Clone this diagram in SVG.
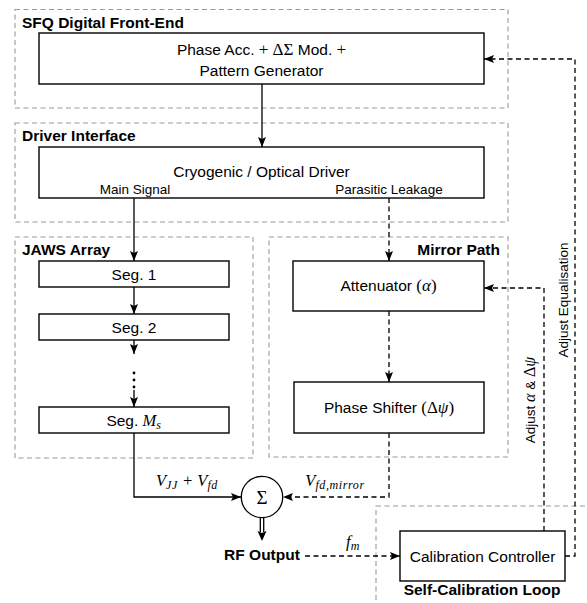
<svg xmlns="http://www.w3.org/2000/svg" width="587" height="603" viewBox="0 0 587 603">
<style>
text{font-family:"Liberation Sans",Arial,sans-serif;fill:#000}
.t{font-size:15.5px;text-anchor:middle}
.s{font-size:13.5px;text-anchor:middle}
.b{font-size:15.5px;font-weight:bold}
.m{font-family:"Liberation Serif","Times New Roman",serif;font-style:italic}
.mu{font-family:"Liberation Serif","Times New Roman",serif}
.sub{font-size:12px;letter-spacing:0.6px}
.grp{fill:none;stroke:#999;stroke-width:1.1;stroke-dasharray:5 3.5}
.box{fill:#fff;stroke:#000;stroke-width:1.4}
.c{fill:none;stroke:#000;stroke-width:1.3}
.d{fill:none;stroke:#000;stroke-width:1.3;stroke-dasharray:5 3.5}
</style>
<defs>
<marker id="ah" viewBox="0 0 10 8" refX="10" refY="4" markerWidth="10" markerHeight="8" orient="auto" markerUnits="userSpaceOnUse">
<path d="M0,0 L10,4 L0,8 L2,4 z" fill="#000"/>
</marker>
</defs>
<rect width="587" height="603" fill="#fff"/>

<g id="groups">
<g id="grp-sfq"><rect class="grp" x="15" y="9.5" width="493" height="98.5"/><text class="b" x="22" y="28">SFQ Digital Front-End</text></g>
<g id="grp-driver"><rect class="grp" x="15" y="123" width="493" height="99"/><text class="b" x="22" y="141">Driver Interface</text></g>
<g id="grp-jaws"><rect class="grp" x="15" y="237" width="238" height="221"/><text class="b" x="22" y="255">JAWS Array</text></g>
<g id="grp-mirror"><rect class="grp" x="269" y="237" width="239" height="220"/><text class="b" x="500" y="255" text-anchor="end">Mirror Path</text></g>
<g id="grp-selfcal"><rect class="grp" x="376" y="506" width="240" height="130"/><text class="b" x="482" y="595" text-anchor="middle">Self-Calibration Loop</text></g>
</g>

<g id="connectors">
<path class="c" d="M262,84 V147" marker-end="url(#ah)"/>
<path class="c" d="M134,198 V261" marker-end="url(#ah)"/>
<path class="c" d="M134,287 V314" marker-end="url(#ah)"/>
<path class="c" d="M134,340 V354" marker-end="url(#ah)"/>
<path class="c" d="M134,390 V407" marker-end="url(#ah)"/>
<path class="c" d="M134,433 V497 H241" marker-end="url(#ah)"/>
<path class="d" d="M389,198 V261" marker-end="url(#ah)"/>
<path class="d" d="M389,311 V382" marker-end="url(#ah)"/>
<path class="d" d="M389,433 V497 H283" marker-end="url(#ah)"/>
<path class="d" d="M305,556 H400" marker-end="url(#ah)"/>
<path class="d" d="M544,531 V288 H484" marker-end="url(#ah)"/>
<path class="d" d="M565,556 H575 V59 H484" marker-end="url(#ah)"/>
<path class="c" d="M260.3,518 V532 M263.7,518 V532"/>
<path d="M257.5,531 L262,541 L266.5,531 L262,533 z" fill="#000"/>
<text class="m" x="187" y="486" text-anchor="middle" font-size="16.5">V<tspan class="sub" dy="3">JJ</tspan><tspan dy="-3" class="mu"> + </tspan>V<tspan class="sub" dy="3">fd</tspan></text>
<text class="m" x="335" y="486" text-anchor="middle" font-size="16.5">V<tspan class="sub" dy="3">fd,mirror</tspan></text>
<text class="m" x="353" y="547" text-anchor="middle" font-size="16.5">f<tspan class="sub" dy="3">m</tspan></text>
<text class="s" transform="translate(535,400) rotate(-90)">Adjust <tspan class="m" font-size="16">α</tspan>  &amp;  <tspan class="mu" font-size="16">Δ</tspan><tspan class="m" font-size="16">ψ</tspan></text>
<text class="s" transform="translate(568,300) rotate(-90)">Adjust Equalisation</text>
</g>

<g id="node-sfq"><rect class="box" x="39" y="33" width="445" height="51"/>
<text class="t" x="261.5" y="55">Phase Acc. <tspan class="mu" font-size="17">+ ΔΣ</tspan> Mod. <tspan class="mu" font-size="17">+</tspan></text>
<text class="t" x="261.5" y="76">Pattern Generator</text></g>

<g id="node-driver"><rect class="box" x="39" y="147" width="445" height="51"/>
<text class="t" x="261.5" y="177">Cryogenic / Optical Driver</text>
<text class="s" x="135" y="194">Main Signal</text>
<text class="s" x="389" y="194">Parasitic Leakage</text></g>

<g id="node-seg1"><rect class="box" x="39" y="261" width="190" height="26"/><text class="t" x="134" y="279.5">Seg.  1</text></g>
<g id="node-seg2"><rect class="box" x="39" y="314" width="190" height="26"/><text class="t" x="134" y="332.5">Seg.  2</text></g>
<g id="node-vdots"><circle cx="134" cy="373" r="1.4"/><circle cx="134" cy="380" r="1.4"/><circle cx="134" cy="387" r="1.4"/></g>
<g id="node-segms"><rect class="box" x="39" y="407" width="190" height="26"/><text class="t" x="134" y="425.5">Seg.  <tspan class="m" font-size="16.5">M</tspan><tspan class="m sub" dy="3">s</tspan></text></g>

<g id="node-att"><rect class="box" x="293" y="261" width="191" height="50"/><text class="t" x="388.5" y="291">Attenuator <tspan class="mu" font-size="17">(</tspan><tspan class="m" font-size="17">α</tspan><tspan class="mu" font-size="17">)</tspan></text></g>
<g id="node-ps"><rect class="box" x="294" y="382" width="190" height="51"/><text class="t" x="389" y="413">Phase Shifter <tspan class="mu" font-size="17">(Δ</tspan><tspan class="m" font-size="17">ψ</tspan><tspan class="mu" font-size="17">)</tspan></text></g>

<g id="node-sum"><circle cx="262" cy="497" r="20.7" fill="#fff" stroke="#000" stroke-width="1.3"/><text class="mu" x="262" y="504" text-anchor="middle" font-size="19">Σ</text></g>

<g id="node-rf"><text class="b" x="262" y="560" text-anchor="middle">RF Output</text></g>

<g id="node-calib"><rect class="box" x="400" y="531" width="165" height="50"/><text class="t" x="482.5" y="561.5">Calibration Controller</text></g>
</svg>
